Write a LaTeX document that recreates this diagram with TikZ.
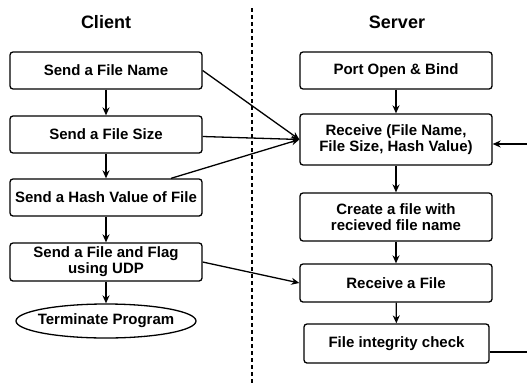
\documentclass[tikz,border=0pt]{standalone}
\usepackage{fontspec}
\setmainfont{Liberation Sans}
\usetikzlibrary{shapes.geometric,arrows.meta,calc}
\begin{document}
\begin{tikzpicture}[x=1pt,y=-1pt,
  box/.style={draw,line width=1.3pt,rounded corners=3pt,minimum width=192pt,inner sep=0pt,align=center,font=\fontsize{15}{16}\selectfont\bfseries},
  term/.style={draw,ellipse,line width=1.3pt,minimum width=180pt,minimum height=34pt,inner xsep=-6pt,inner ysep=0pt,font=\fontsize{15}{16}\selectfont\bfseries},
  title/.style={font=\fontsize{18}{20}\selectfont\bfseries},
  arr/.style={line width=1.3pt,-{Stealth[length=8pt,width=7pt]}},
  sep/.style={line width=1.3pt,dash pattern=on 4pt off 3pt}]
\useasboundingbox (0,0) rectangle (527,383);
\node[title] (tc) at (106,22) {Client};
\node[title] (ts) at (397,22) {Server};
\coordinate (d1) at (252,8);
\coordinate (d2) at (252,383);
\draw[sep] (d1) -- (d2);
% client
\node[box,minimum height=37pt] (c1) at (106,70.5) {Send a File Name};
\node[box,minimum height=37pt] (c2) at (106,134.5) {Send a File Size};
\node[box,minimum height=37pt] (c3) at (106,197.5) {Send a Hash Value of File};
\node[box,minimum height=38pt] (c4) at (106,262) {Send a File and Flag\\using UDP};
\node[term] (c5) at (106,321) {Terminate Program};
% server
\node[box,minimum height=37pt] (s1) at (396,70.5) {Port Open \& Bind};
\node[box,minimum height=51pt] (s2) at (396,139.5) {Receive (File Name,\\File Size, Hash Value)};
\node[box,minimum height=48pt] (s3) at (396,217) {Create a file with\\recieved file name};
\node[box,minimum height=38pt] (s4) at (396,283) {Receive a File};
\node[box,minimum height=39pt,minimum width=185pt] (s5) at (396.5,343.5) {File integrity check};
% vertical flows
\draw[arr] (c1) -- (c2);
\draw[arr] (c2) -- (c3);
\draw[arr] (c3) -- (c4);
\draw[arr] (c4) -- (c5);
\draw[arr] (s1) -- (s2);
\draw[arr] (s2) -- (s3);
\draw[arr] (s3) -- (s4);
\draw[arr] (s4) -- (s5);
% cross flows
\draw[arr] (c1.east) -- (s2.west);
\draw[arr] ([yshift=-2pt]c2.east) -- (s2.west);
\draw[arr] ([xshift=65pt]c3.north) -- (s2.west);
\draw[arr] (c4.east) -- (s4.west);
% feedback
\coordinate (fb) at (529,352);
\draw[arr] ([yshift=-8.5pt]s5.east) -- (fb) |- ([yshift=-4.5pt]s2.east);
\end{tikzpicture}
\end{document}
